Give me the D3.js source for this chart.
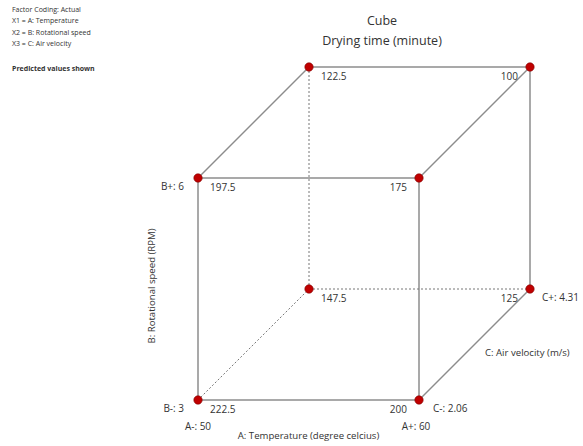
<!DOCTYPE html>
<html>
<head>
<meta charset="utf-8">
<script src="https://cdn.jsdelivr.net/npm/d3@7"></script>
<style>
  body { margin: 0; background: #fff; }
  text { font-family: "Open Sans", sans-serif; fill: #333; }
</style>
</head>
<body>
<div id="cube"></div>
<script>
const width = 583, height = 446;

// factor levels
const aLevels = [50, 60];
const bLevels = [3, 6];
const cLevels = [2.06, 4.31];

// predicted drying time at each corner, level index for A, B, C
const corners = [
  {a: 0, b: 0, c: 0, value: 222.5},
  {a: 1, b: 0, c: 0, value: 200},
  {a: 0, b: 1, c: 0, value: 197.5},
  {a: 1, b: 1, c: 0, value: 175},
  {a: 0, b: 0, c: 1, value: 147.5},
  {a: 1, b: 0, c: 1, value: 125},
  {a: 0, b: 1, c: 1, value: 122.5},
  {a: 1, b: 1, c: 1, value: 100}
];

const legendLines = ["Factor Coding: Actual", "X1 = A: Temperature", "X2 = B: Rotational speed", "X3 = C: Air velocity"];

const svg = d3.select("#cube").append("svg")
    .attr("width", width)
    .attr("height", height);

const xScale = d3.scaleLinear().domain(aLevels).range([198, 419]);
const yScale = d3.scaleLinear().domain(bLevels).range([400, 178]);
const depth = d3.scaleLinear().domain(cLevels).range([0, 111]);

const px = d => xScale(aLevels[d.a]) + depth(cLevels[d.c]);
const py = d => yScale(bLevels[d.b]) - depth(cLevels[d.c]);

// edges join corners that differ in one factor; the ones at the back-bottom-left are hidden
const isHiddenCorner = d => d.a === 0 && d.b === 0 && d.c === 1;
const edges = [];
corners.forEach((p, i) => corners.forEach((q, j) => {
  if (j > i && (Math.abs(p.a - q.a) + Math.abs(p.b - q.b) + Math.abs(p.c - q.c)) === 1) {
    edges.push({p, q, hidden: isHiddenCorner(p) || isHiddenCorner(q)});
  }
}));

svg.append("g").selectAll("line")
  .data(edges)
  .join("line")
    .attr("x1", d => px(d.p)).attr("y1", d => py(d.p))
    .attr("x2", d => px(d.q)).attr("y2", d => py(d.q))
    .attr("stroke", d => d.hidden ? "#777" : "#8c8c8c")
    .attr("stroke-width", d => d.hidden ? 1 : 1.5)
    .attr("stroke-dasharray", d => d.hidden ? "2,2" : null);

svg.append("g").selectAll("circle")
  .data(corners)
  .join("circle")
    .attr("cx", px).attr("cy", py)
    .attr("r", 4.2)
    .attr("fill", "#c00000")
    .attr("stroke", "#800000")
    .attr("stroke-width", 0.6);

svg.append("g").selectAll("text")
  .data(corners)
  .join("text")
    .attr("x", d => d.a === 0 ? px(d) + 12 : px(d) - 12)
    .attr("y", d => py(d) + 13)
    .attr("text-anchor", d => d.a === 0 ? "start" : "end")
    .style("font-size", "10px")
    .text(d => d.value);

// level labels
const levelLabels = [
  {text: `B+: ${bLevels[1]}`, x: xScale(aLevels[0]) - 14, y: yScale(bLevels[1]) + 12, anchor: "end"},
  {text: `B-: ${bLevels[0]}`, x: xScale(aLevels[0]) - 14, y: yScale(bLevels[0]) + 12, anchor: "end"},
  {text: `A-: ${aLevels[0]}`, x: xScale(aLevels[0]), y: yScale(bLevels[0]) + 30, anchor: "middle"},
  {text: `A+: ${aLevels[1]}`, x: xScale(aLevels[1]) - 3, y: yScale(bLevels[0]) + 30, anchor: "middle"},
  {text: `C-: ${cLevels[0]}`, x: xScale(aLevels[1]) + 14, y: yScale(bLevels[0]) + 12, anchor: "start"},
  {text: `C+: ${cLevels[1]}`, x: xScale(aLevels[1]) + depth(cLevels[1]) + 12, y: yScale(bLevels[0]) - depth(cLevels[1]) + 12, anchor: "start"}
];

svg.append("g").selectAll("text")
  .data(levelLabels)
  .join("text")
    .attr("x", d => d.x).attr("y", d => d.y)
    .attr("text-anchor", d => d.anchor)
    .style("font-size", "10px")
    .text(d => d.text);

// axis titles
svg.append("text")
    .attr("x", (xScale(aLevels[0]) + xScale(aLevels[1])) / 2)
    .attr("y", 439)
    .attr("text-anchor", "middle")
    .style("font-size", "9.6px")
    .text("A: Temperature (degree celcius)");

svg.append("text")
    .attr("transform", "translate(155, 286) rotate(-90)")
    .attr("text-anchor", "middle")
    .style("font-size", "9.6px")
    .text("B: Rotational speed (RPM)");

svg.append("text")
    .attr("x", 485)
    .attr("y", 356)
    .style("font-size", "9.6px")
    .text("C: Air velocity (m/s)");

// title
svg.append("text")
    .attr("x", 382).attr("y", 25)
    .attr("text-anchor", "middle")
    .style("font-size", "12.5px")
    .text("Cube");

svg.append("text")
    .attr("x", 382).attr("y", 45)
    .attr("text-anchor", "middle")
    .style("font-size", "12.5px")
    .text("Drying time (minute)");

// legend
svg.append("g").selectAll("text")
  .data(legendLines)
  .join("text")
    .attr("x", 12)
    .attr("y", (d, i) => 12 + i * 11.3)
    .style("font-size", "7px")
    .text(d => d);

svg.append("text")
    .attr("x", 12).attr("y", 71)
    .style("font-size", "7px")
    .style("font-weight", "bold")
    .text("Predicted values shown");
</script>
</body>
</html>
